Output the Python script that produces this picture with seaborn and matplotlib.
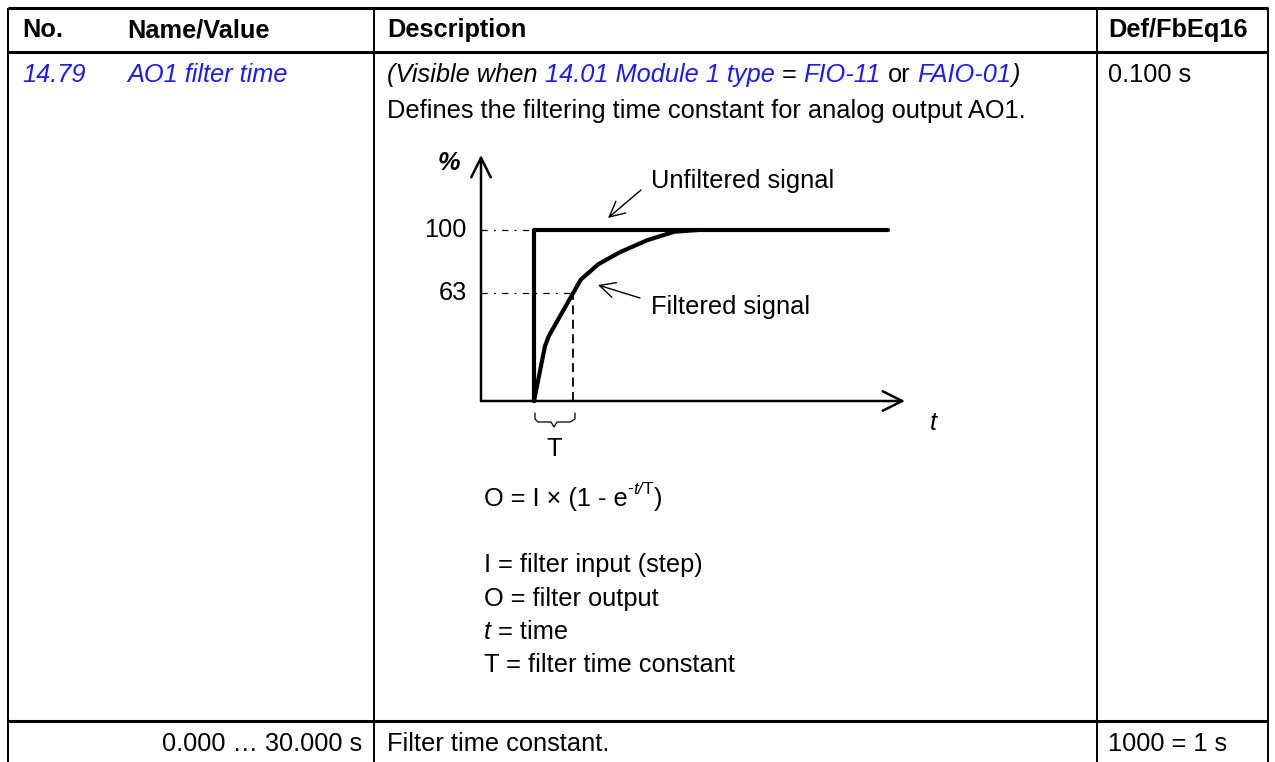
import matplotlib
matplotlib.use('Agg')
import matplotlib.pyplot as plt
from matplotlib.patches import FancyArrowPatch
import seaborn as sns
import pandas as pd

# ---- data (t in units of T, y in %) ----
step_t = [0, 0, 9.08]
step_pct = [0, 100, 100]
filt_t = [0, 0.28, 0.38, 1.0, 1.2, 1.65, 2.2, 2.9, 3.6, 4.2]
filt_pct = [0, 32, 38, 63, 71, 80, 87, 94, 99, 100]
levels = [100, 63]
T_const = 1.0

header = ['No.', 'Name/Value', 'Description', 'Def/FbEq16']
par_no = '14.79'
par_name = 'AO1 filter time'
par_def = '0.100 s'
desc_line2 = 'Defines the filtering time constant for analog output AO1.'
legend_lines = ['I = filter input (step)', 'O = filter output', 'time', 'T = filter time constant']
range_txt = '0.000 \u2026 30.000 s'
range_desc = 'Filter time constant.'
range_eq = '1000 = 1 s'

sns.set_theme(style='white')
plt.rcParams['font.family'] = ['Liberation Sans', 'DejaVu Sans']
plt.rcParams['text.color'] = 'black'
BLUE = '#1a1aff'
FS = 18.3
W, H = 1275, 762

fig = plt.figure(figsize=(W / 100, H / 100), dpi=100)
ax = fig.add_axes([0, 0, 1, 1])
ax.set_xlim(0, W)
ax.set_ylim(H, 0)
ax.axis('off')

# table rules
for y, lw in [(8, 2.2), (52, 2.2), (721, 2.2)]:
    ax.plot([8, 1268], [y, y], color='black', lw=lw, solid_capstyle='butt')
for x in [8, 374, 1097, 1268]:
    ax.plot([x, x], [8, H], color='black', lw=1.4, solid_capstyle='butt')

r = fig.canvas.get_renderer()
GAP = 0.278 * FS * 100 / 72


def put(x, y, pieces, size=FS):
    # chain text pieces on one baseline
    for p in pieces:
        if p == ' ':
            x += GAP
            continue
        s, st = p
        st = dict(st)
        dy = st.pop('dy', 0)
        t = ax.text(x, y - dy, s, va='baseline', ha='left',
                    fontsize=st.pop('size', size), **st)
        bb = t.get_window_extent(renderer=r)
        x = ax.transData.inverted().transform((bb.x1, bb.y0))[0]
    return x


bold = dict(fontweight='bold', color='black')
for x, s in zip([22, 127, 387, 1108], header):
    ax.text(x, 37, s, va='baseline', fontsize=FS, **bold)

it_b = dict(style='italic', color=BLUE)
it_k = dict(style='italic', color='black')
rg_k = dict(color='black')
ax.text(22, 82, par_no, va='baseline', fontsize=FS, **it_b)
ax.text(127, 82, par_name, va='baseline', fontsize=FS, **it_b)
put(387, 82, [('(Visible when', it_k), ' ', ('14.01 Module 1 type', it_b), ' ',
              ('=', rg_k), ' ', ('FIO-11', it_b), ' ', ('or', rg_k), ' ',
              ('FAIO-01', it_b), (')', it_k)])
ax.text(1108, 82, par_def, va='baseline', fontsize=FS, color='black')
ax.text(387, 118, desc_line2, va='baseline', fontsize=FS, color='black')

# formula and legend
small = FS * 0.68
put(484, 506, [('O = I \u00d7 (1 - e', rg_k),
               ('-', dict(rg_k, size=small, dy=12)),
               ('t/', dict(it_k, size=small, dy=12)),
               ('T', dict(rg_k, size=small, dy=12)),
               (')', rg_k)])
put(484, 572, [(legend_lines[0], rg_k)])
put(484, 606, [(legend_lines[1], rg_k)])
put(484, 639, [('t', it_k), ' ', ('= ' + legend_lines[2], rg_k)])
put(484, 672, [(legend_lines[3], rg_k)])

# last row
ax.text(362, 751, range_txt, va='baseline', ha='right', fontsize=FS, color='black')
ax.text(387, 751, range_desc, va='baseline', fontsize=FS, color='black')
ax.text(1108, 751, range_eq, va='baseline', fontsize=FS, color='black')

# ---- step response diagram ----
px_t, x0 = 39.0, 534.0
px_p, y0 = 1.71, 401.0
bx0, bx1, by0, by1 = 420, 960, 140, 470
ax2 = fig.add_axes([bx0 / W, 1 - by1 / H, (bx1 - bx0) / W, (by1 - by0) / H])
ax2.set_xlim((bx0 - x0) / px_t, (bx1 - x0) / px_t)
ax2.set_ylim((y0 - by1) / px_p, (y0 - by0) / px_p)
ax2.axis('off')
ax2.patch.set_alpha(0)

ya = (481 - x0) / px_t
ax2.add_patch(FancyArrowPatch((ya, 0), (ya, (y0 - 155) / px_p), arrowstyle='->,head_length=14,head_width=7',
                              mutation_scale=1, lw=1.8, color='black', shrinkA=0, shrinkB=0))
ax2.add_patch(FancyArrowPatch((ya, 0), ((905 - x0) / px_t, 0), arrowstyle='->,head_length=14,head_width=7',
                              mutation_scale=1, lw=1.8, color='black', shrinkA=0, shrinkB=0))

df_step = pd.DataFrame({'t': step_t, 'pct': step_pct})
df_filt = pd.DataFrame({'t': filt_t, 'pct': filt_pct})
sns.lineplot(data=df_step, x='t', y='pct', sort=False, estimator=None, color='black', lw=3.0, ax=ax2)
sns.lineplot(data=df_filt, x='t', y='pct', sort=False, estimator=None, color='black', lw=3.0, ax=ax2)

# dashed guides
ax2.plot([T_const, T_const], [0, levels[1]], color='black', lw=1.3, ls=(0, (5, 3)))
ax2.plot([ya, 0], [levels[0]] * 2, color='black', lw=0.9, ls=(0, (5, 5, 1.5, 5)))
ax2.plot([ya, T_const], [levels[1]] * 2, color='black', lw=0.9, ls=(0, (5, 5, 1.5, 5)))
for v in levels:
    ax2.text((467 - x0) / px_t, v, str(v), ha='right', va='center', fontsize=FS, color='black')

ax.text(449, 163, '%', ha='center', va='center', fontsize=FS, fontweight='bold', style='italic')
ax.text(933, 423, 't', ha='center', va='center', fontsize=FS, style='italic')
ax.text(554, 449, 'T', ha='center', va='center', fontsize=FS)
ax.text(651, 181, 'Unfiltered signal', ha='left', va='center', fontsize=FS)
ax.text(651, 307, 'Filtered signal', ha='left', va='center', fontsize=FS)
ax.add_patch(FancyArrowPatch((641, 190), (608, 218), arrowstyle='->,head_length=11,head_width=5.5',
                             mutation_scale=1, lw=1.0, color='black', shrinkA=0, shrinkB=0))
ax.add_patch(FancyArrowPatch((640, 298), (598, 285), arrowstyle='->,head_length=11,head_width=5.5',
                             mutation_scale=1, lw=1.0, color='black', shrinkA=0, shrinkB=0))

# brace under T
bx = [535, 535, 538, 551, 554, 557, 570, 575, 575]
byy = [413, 419, 422, 422, 427, 422, 422, 419, 413]
ax.plot(bx, byy, color='black', lw=0.9)

fig.savefig('out.png', dpi=100)
